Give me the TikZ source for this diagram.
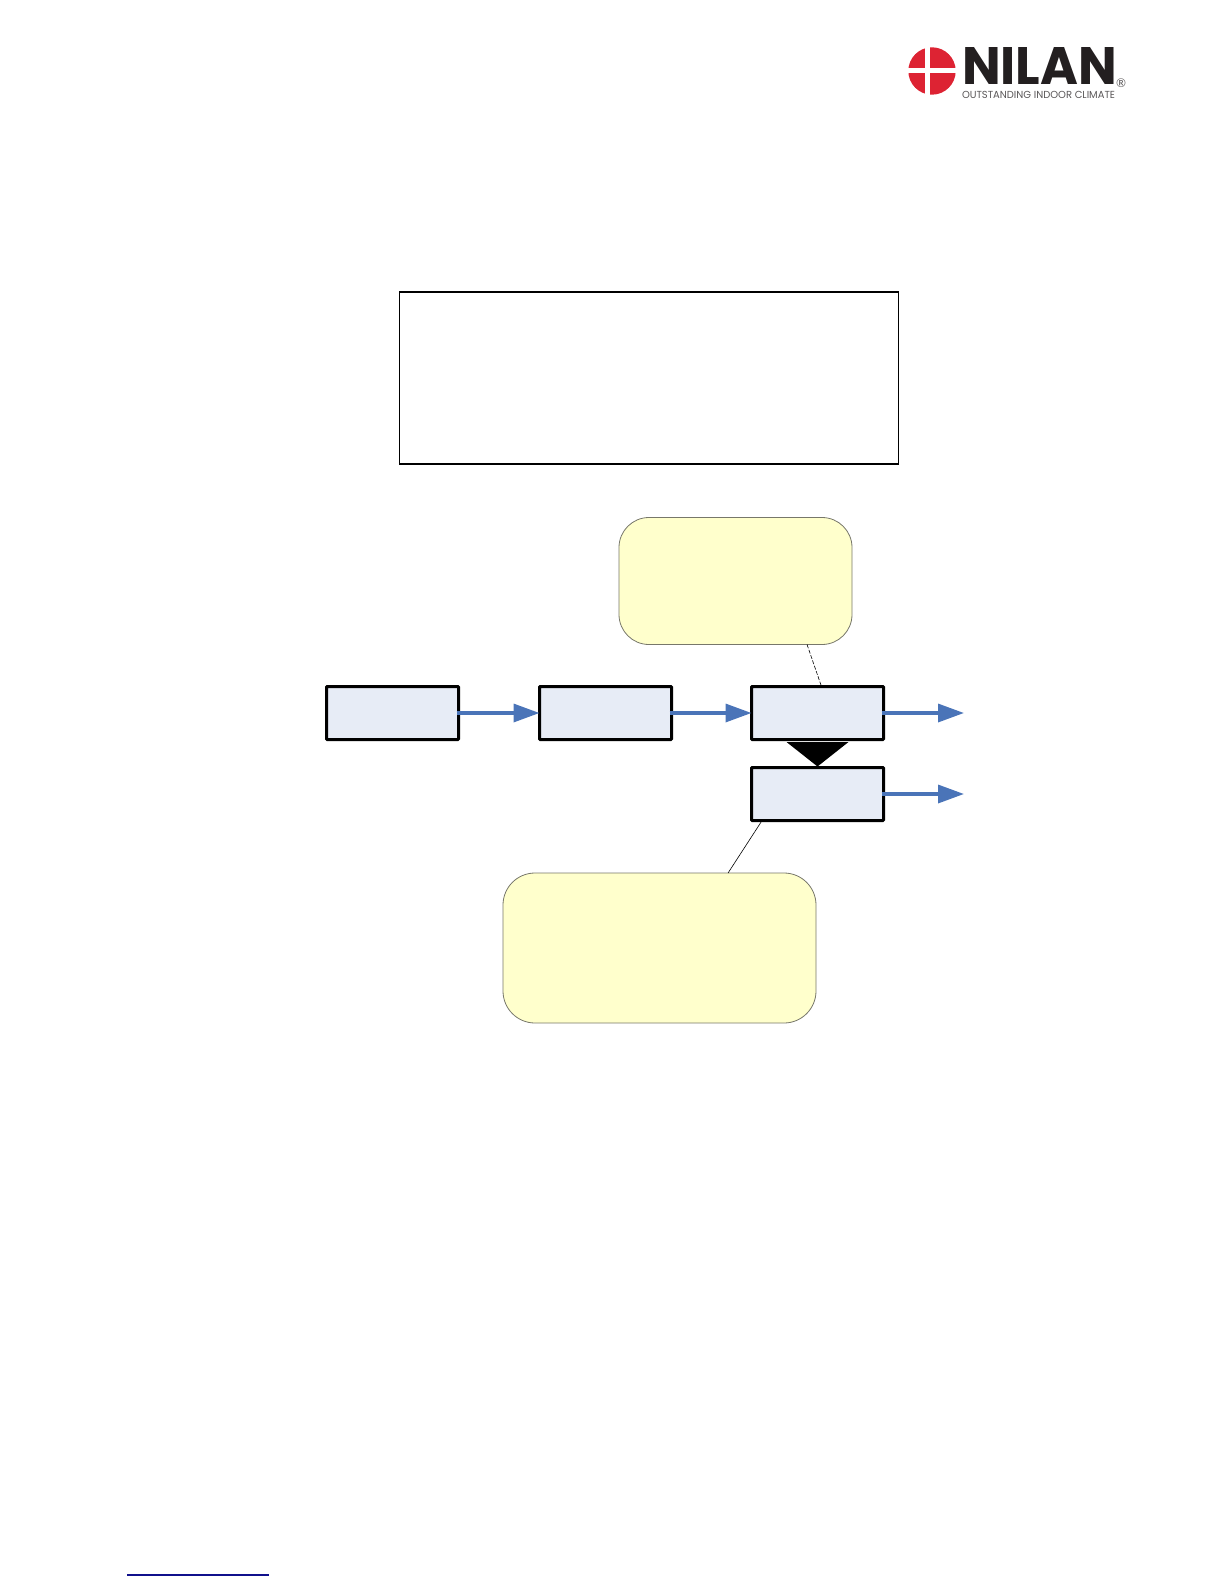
\documentclass[tikz,border=0pt]{standalone}
\usepackage{fontspec}
\usepackage{graphicx}
\setmainfont{Lato}
\newfontfamily\logofont{Poppins}
\usetikzlibrary{arrows.meta,calc}
\definecolor{boxfill}{HTML}{E7ECF6}
\definecolor{noteFill}{HTML}{FFFFCC}
\definecolor{noteEdge}{HTML}{77776A}
\definecolor{flowblue}{HTML}{4A74B8}
\definecolor{logored}{HTML}{DD2333}
\definecolor{logoblack}{HTML}{231F20}
\definecolor{linkblue}{HTML}{10108C}
\tikzset{
  flowbox/.style={draw=black,fill=boxfill,line width=1.5pt,minimum width=66pt,minimum height=26.5pt,outer sep=0pt,inner sep=0pt,rounded corners=0.4pt},
  notebox/.style={draw=noteEdge,fill=noteFill,line width=0.4pt,outer sep=0pt,inner sep=0pt,rounded corners=15pt},
  flowarrow/.style={draw=flowblue,line width=1.7pt,-{Triangle[length=13pt,width=9pt,color=flowblue]},shorten <=-1pt},
  leader/.style={draw=black,line width=0.3pt},
  framebox/.style={draw=black,line width=0.85pt,minimum width=249.5pt,minimum height=86pt,outer sep=0pt,inner sep=0pt},
}
\begin{document}
\begin{tikzpicture}[x=0.5pt,y=-0.5pt]
\useasboundingbox (0,0) rectangle (1224,1584);
% logo
\fill[logored] (932,71) circle[radius=23.7];
\fill[white] (908,68.2) rectangle (956,73.2);
\fill[white] (925,46) rectangle (930,96);
\node[inner sep=0pt,text=logoblack] (logoname) at (1039.5,66.5) {\resizebox{77.5pt}{18.5pt}{\logofont\bfseries NILAN}};
\node[inner sep=0pt,text=logoblack!75] (logotag) at (1038.5,94.5) {\resizebox{76.5pt}{3.6pt}{\logofont OUTSTANDING INDOOR CLIMATE}};
\node[inner sep=0pt,text=logoblack!75,font=\fontsize{6pt}{6pt}\selectfont] (logoreg) at (1121,83) {®};
% frame
\node[framebox] (frame) at (649,378) {};
% notes
\node[notebox,minimum width=116.5pt,minimum height=63.5pt] (noteA) at (735.5,581) {};
\node[notebox,minimum width=156.5pt,minimum height=75pt,rounded corners=16pt] (noteB) at (659.5,948) {};
% boxes
\node[flowbox] (boxA) at (392.5,713) {};
\node[flowbox] (boxB) at (605.5,713) {};
\node[flowbox] (boxC) at (817.5,713) {};
\node[flowbox] (boxD) at (817.5,794) {};
\coordinate (outC) at (964,713);
\coordinate (outD) at (964,794);
% merge triangle
\fill[black] ($(boxC.south)+(-31,2.5)$) -- ($(boxC.south)+(31,2.5)$) -- ($(boxD.north)+(0,-1)$) -- cycle;
% connectors
\draw[flowarrow] (boxA.east) -- (boxB.west);
\draw[flowarrow] (boxB.east) -- (boxC.west);
\draw[flowarrow] (boxC.east) -- (outC);
\draw[flowarrow] (boxD.east) -- (outD);
\draw[leader,dash pattern=on 2pt off 0.8pt] ($(noteA.south west)!0.807!(noteA.south east)$) -- ($(boxC.north west)!0.53!(boxC.north east)$);
\draw[leader] ($(boxD.south west)!0.08!(boxD.south east)$) -- ($(noteB.north west)!0.719!(noteB.north east)$);
% footer link rule
\coordinate (linkL) at (127,1575);
\coordinate (linkR) at (269,1575);
\draw[linkblue,line width=0.6pt] (linkL) -- (linkR);
\end{tikzpicture}
\end{document}
